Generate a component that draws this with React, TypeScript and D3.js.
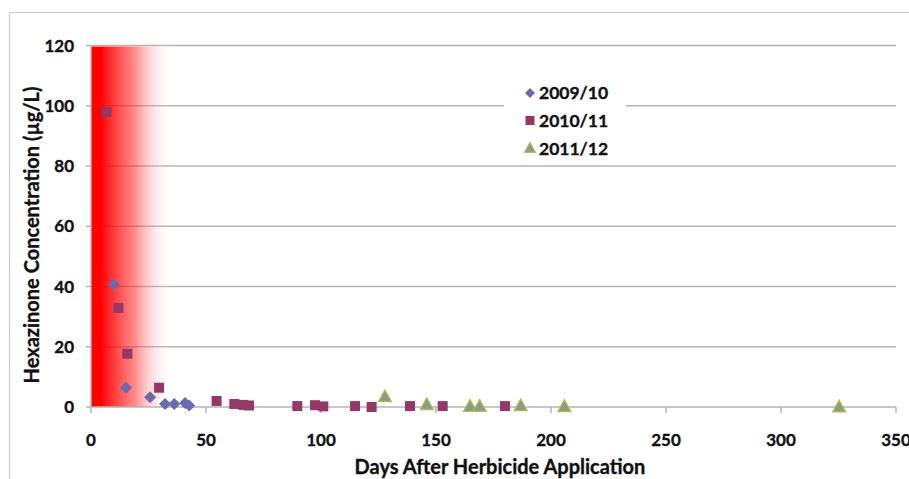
import React from "react";
import * as d3 from "d3";

const xTicks = [0, 50, 100, 150, 200, 250, 300, 350];
const yTicks = [0, 20, 40, 60, 80, 100, 120];

const days0910 = [9.9, 15.2, 25.7, 32.2, 36.2, 40.9, 42.7];
const vals0910 = [40.7, 6.4, 3.2, 1.0, 1.0, 1.3, 0.5];

const days1011 = [6.8, 11.9, 15.8, 29.6, 54.6, 62.3, 66.2, 68.7, 89.7, 97.4, 101, 114.8, 122, 138.7, 152.9, 180];
const vals1011 = [97.9, 32.9, 17.7, 6.4, 2.0, 1.0, 0.7, 0.5, 0.3, 0.6, 0.2, 0.3, 0.0, 0.3, 0.3, 0.3];

const days1112 = [127.8, 146, 164.8, 169, 186.8, 205.8, 325.3];
const vals1112 = [3.5, 0.9, 0.3, 0.3, 0.5, 0.2, 0.1];

const seriesNames = ["2009/10", "2010/11", "2011/12"];
const redZoneEnd = 35;

const FONT = "Lato, 'Open Sans', sans-serif";
const GRID = "#b4b4b4";
const C_DIA = "#6a6aae";
const C_SQ = "#953865";
const C_TRI_FILL = "#8e9987";
const C_TRI_STROKE = "#a8c24e";
const TXT = "#111";

export default function App() {
  const W = 909, H = 479;
  const x = d3.scaleLinear().domain([0, 350]).range([91, 896]);
  const y = d3.scaleLinear().domain([0, 120]).range([407, 45.5]);

  const diamond = (cx: number, cy: number, r = 6) =>
    `M${cx},${cy - r}L${cx + r},${cy}L${cx},${cy + r}L${cx - r},${cy}Z`;
  const tri = (cx: number, cy: number, s = 6.5) =>
    `M${cx},${cy - s}L${cx + s},${cy + s * 0.8}L${cx - s},${cy + s * 0.8}Z`;

  const legendX = 530;
  const legendYs = [93, 120.5, 148.5];
  const heavy = { stroke: TXT, strokeWidth: 0.35 };

  return (
    <svg width={W} height={H} style={{ position: "absolute", left: 0, top: 0, background: "#fff" }} fontFamily={FONT}>
      <defs>
        <linearGradient id="redzone" gradientUnits="userSpaceOnUse" x1={x(0)} x2={x(redZoneEnd)} y1={0} y2={0}>
          <stop offset="0" stopColor="#ff0000" stopOpacity={1} />
          <stop offset="0.12" stopColor="#ff0000" stopOpacity={1} />
          <stop offset="0.55" stopColor="#ff3030" stopOpacity={0.55} />
          <stop offset="1" stopColor="#ffffff" stopOpacity={0} />
        </linearGradient>
      </defs>
      <rect x={0} y={0} width={W} height={H} fill="#fff" />
      {/* frame */}
      <line x1={9.5} y1={12.5} x2={W} y2={12.5} stroke="#c8c8c8" strokeWidth={1.2} />
      <line x1={9.5} y1={12.5} x2={9.5} y2={H} stroke="#c8c8c8" strokeWidth={1.2} />

      {/* gridlines */}
      {yTicks.filter((t) => t > 0).map((t) => (
        <line key={t} x1={x(0)} x2={x(350)} y1={y(t)} y2={y(t)} stroke={GRID} strokeWidth={1.5} />
      ))}
      {/* red zone */}
      <rect x={x(0)} y={y(120) + 1} width={x(redZoneEnd) - x(0)} height={y(0) - y(120) - 1} fill="url(#redzone)" />

      {/* axes */}
      <line x1={x(0)} x2={x(0)} y1={y(120)} y2={y(0)} stroke={GRID} strokeWidth={1.5} />
      <line x1={x(0)} x2={x(350)} y1={y(0)} y2={y(0)} stroke={GRID} strokeWidth={1.5} />
      {yTicks.map((t) => (
        <g key={t}>
          <line x1={x(0) - 5} x2={x(0)} y1={y(t)} y2={y(t)} stroke={GRID} strokeWidth={1.5} />
          <text x={74} y={y(t)} dy="0.36em" textAnchor="end" fontSize={17} fontWeight={700} fill={TXT} {...heavy}>{t}</text>
        </g>
      ))}
      {xTicks.map((t) => (
        <g key={t}>
          <line x1={x(t)} x2={x(t)} y1={y(0)} y2={y(0) + 6} stroke={GRID} strokeWidth={1.5} />
          <text x={x(t)} y={440} dy="0.36em" textAnchor="middle" fontSize={17} fontWeight={700} fill={TXT} {...heavy}>{t}</text>
        </g>
      ))}

      {/* axis titles */}
      <text x={500} y={467} dy="0.35em" textAnchor="middle" fontSize={20} fontWeight={700} fill={TXT} {...heavy}>Days After Herbicide Application</text>
      <text transform={`translate(32,235) rotate(-90)`} textAnchor="middle" dy="0.35em" fontSize={20} fontWeight={700} fill={TXT} {...heavy}>Hexazinone Concentration (µg/L)</text>

      {/* legend */}
      <rect x={504} y={79} width={122} height={84} fill="#fff" />
      <path d={diamond(legendX, legendYs[0], 5)} fill={C_DIA} />
      <rect x={legendX - 4.5} y={legendYs[1] - 4.5} width={9} height={9} fill={C_SQ} />
      <path d={tri(legendX, legendYs[2] - 0.5, 5.5)} fill={C_TRI_FILL} stroke={C_TRI_STROKE} strokeWidth={1.2} />
      {seriesNames.map((n, i) => (
        <text key={n} x={539} y={legendYs[i]} dy="0.36em" fontSize={17.5} fontWeight={700} fill={TXT} {...heavy}>{n}</text>
      ))}

      {/* series 2010/11 squares */}
      {days1011.map((d, i) => (
        <rect key={"s" + i} x={x(d) - 5} y={y(vals1011[i]) - 5} width={10} height={10} fill={C_SQ} />
      ))}
      {/* series 2009/10 diamonds */}
      {days0910.map((d, i) => (
        <path key={"d" + i} d={diamond(x(d), y(vals0910[i]), 6)} fill={C_DIA} />
      ))}
      {/* series 2011/12 triangles */}
      {days1112.map((d, i) => (
        <path key={"t" + i} d={tri(x(d), y(vals1112[i]), 6.5)} fill={C_TRI_FILL} stroke={C_TRI_STROKE} strokeWidth={1.3} />
      ))}
    </svg>
  );
}
